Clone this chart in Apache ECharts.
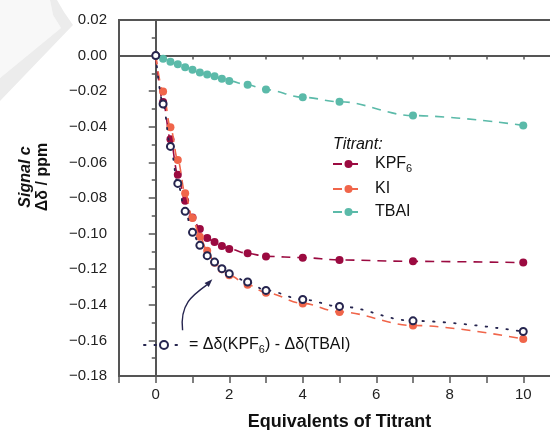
<!DOCTYPE html>
<html>
<head>
<meta charset="utf-8">
<script src="https://cdn.jsdelivr.net/npm/echarts@6/dist/echarts.min.js"></script>
<style>html,body{margin:0;padding:0;background:#fff}#c{width:550px;height:430px}</style>
</head>
<body>
<div id="c"></div>
<script>
// ---- data ----
var equivalents = [0, 0.2, 0.4, 0.6, 0.8, 1.0, 1.2, 1.4, 1.6, 1.8, 2.0, 2.5, 3, 4, 5, 7, 10];
var kpf6 = [0, -0.026, -0.047, -0.067, -0.0815, -0.091, -0.0974, -0.1025, -0.1047, -0.107, -0.1086, -0.1111, -0.1128, -0.1135, -0.1148, -0.1156, -0.1163];
var ki = [0, -0.0202, -0.0403, -0.0586, -0.0774, -0.0912, -0.1017, -0.1096, -0.1164, -0.1200, -0.1234, -0.1287, -0.1332, -0.1392, -0.1440, -0.1516, -0.1592];
var tbai = [0, -0.0017, -0.0034, -0.0048, -0.0065, -0.0080, -0.0095, -0.0106, -0.0116, -0.0130, -0.0143, -0.0164, -0.0191, -0.0234, -0.0259, -0.0337, -0.0392];
var diff = [0, -0.0272, -0.0510, -0.0718, -0.0875, -0.0993, -0.1066, -0.1124, -0.1160, -0.1197, -0.1225, -0.1272, -0.1319, -0.1370, -0.1409, -0.1490, -0.1550];
var xTickLabels = [0, 2, 4, 6, 8, 10];
var seriesNames = ['KPF6', 'KI', 'TBAI'];
var diffName = 'diff';

function pairs(xs, ys) { return xs.map(function (x, i) { return [x, ys[i]]; }); }

var FONT = "'Liberation Sans', Arial, sans-serif";
var AX = '#555555';
var C_KPF = '#9b0a40', C_KI = '#f0654a', C_TBAI = '#5bbaa9', C_DIFF = '#26254f';

var chart = echarts.init(document.getElementById('c'), null, { renderer: 'canvas' });

function lineSeries(name, data, color, z) {
  return {
    name: name, type: 'line', data: data, z: z,
    smooth: 0.35, smoothMonotone: 'x',
    symbol: 'circle', symbolSize: 8,
    itemStyle: { color: color },
    lineStyle: { color: color, width: 1.6, type: [9, 7] },
    emphasis: { disabled: true }
  };
}

var option = {
  animation: false,
  textStyle: { fontFamily: FONT },
  title: {
    text: 'Titrant:', left: 333, top: 137, padding: 0,
    textStyle: { fontFamily: FONT, fontStyle: 'italic', fontWeight: 'normal', fontSize: 16, color: '#111' }
  },
  grid: { left: 119, top: 20, width: 441, height: 356, show: true, borderColor: AX, borderWidth: 2,
    backgroundColor: 'transparent', containLabel: false, outerBoundsMode: 'none' },
  legend: [{
    data: seriesNames, left: 332, top: 156, orient: 'vertical', padding: 0,
    itemWidth: 31, itemHeight: 10, itemGap: 7, selectedMode: false,
    textStyle: { fontFamily: FONT, fontSize: 16, color: '#111', padding: [0, 0, 0, 6],
      rich: { t: { fontSize: 16, fontFamily: FONT, color: '#111' }, s: { fontSize: 11, fontFamily: FONT, color: '#111', padding: [9, 0, 0, 0] } } },
    formatter: function (n) { return n === 'KPF6' ? '{t|KPF}{s|6}' : n; }
  }, {
    data: [diffName], left: 143, top: 337, padding: 0,
    itemWidth: 40, itemHeight: 10, selectedMode: false,
    textStyle: { fontFamily: FONT, fontSize: 16, color: '#111',
      rich: { t: { fontSize: 16, fontFamily: FONT, color: '#111' }, s: { fontSize: 11, fontFamily: FONT, color: '#111', padding: [9, 0, 0, 0] } } },
    formatter: function () { return '{t|= Δδ(KPF}{s|6}{t|) - Δδ(TBAI)}'; }
  }],
  xAxis: [{
    type: 'value', min: -1, max: 11, interval: 1,
    name: 'Equivalents of Titrant', nameLocation: 'middle', nameGap: 37,
    nameTextStyle: { fontFamily: FONT, fontSize: 18, fontWeight: 'bold', color: '#111' },
    axisLine: { lineStyle: { color: AX, width: 2 } },
    axisTick: { length: 4, lineStyle: { color: AX, width: 1.5 } },
    axisLabel: { fontFamily: FONT, fontSize: 15, color: '#222', margin: 11,
      formatter: function (v) { return xTickLabels.indexOf(v) >= 0 ? String(v) : ''; } },
    splitLine: { show: false }
  }, {
    type: 'value', min: -1, max: 11, interval: 1, position: 'bottom', gridIndex: 0,
    axisLine: { show: false },
    axisTick: { length: 7, lineStyle: { color: AX, width: 1.5 },
      interval: function (i, v) { return xTickLabels.indexOf(Number(v)) >= 0; } },
    axisLabel: { show: false }, splitLine: { show: false }
  }],
  yAxis: {
    type: 'value', min: -0.18, max: 0.02, interval: 0.02,
    axisLine: { show: true, lineStyle: { color: AX, width: 2 } },
    axisTick: { show: true, length: 7, lineStyle: { color: AX, width: 1.5 } },
    minorTick: { show: true, splitNumber: 2, length: 4, lineStyle: { color: AX, width: 1.5 } },
    axisLabel: { fontFamily: FONT, fontSize: 15, color: '#222', margin: 12,
      formatter: function (v) { return (Math.abs(v) < 1e-9 ? '0.00' : v.toFixed(2)).replace('-', '\u2212'); } },
    splitLine: { show: false }
  },
  series: [
    lineSeries('KPF6', pairs(equivalents, kpf6), C_KPF, 2),
    lineSeries('KI', pairs(equivalents, ki), C_KI, 3),
    lineSeries('TBAI', pairs(equivalents, tbai), C_TBAI, 4),
    {
      name: diffName, type: 'line', data: pairs(equivalents, diff), z: 5,
      smooth: 0.35, smoothMonotone: 'x',
      symbol: 'emptyCircle', symbolSize: 7,
      itemStyle: { color: C_DIFF, borderColor: C_DIFF, borderWidth: 2 },
      lineStyle: { color: C_DIFF, width: 1.8, type: [1.5, 9], cap: 'round' },
      emphasis: { disabled: true }
    }
  ]
};
chart.setOption(option);

// annotation arrow anchored in data coordinates
var a0 = chart.convertToPixel({ gridIndex: 0 }, [0.73, -0.1543]);
var a1 = chart.convertToPixel({ gridIndex: 0 }, [1.54, -0.1257]);
var dx = 0.707, dy = -0.707, L = 8, W = 3;
var bx = a1[0] - L * dx, by = a1[1] - L * dy;

chart.setOption({
  graphic: [
    { type: 'polygon', silent: true, z: -20, shape: { points: [[0, 0], [50, 0], [53, 15], [61, 28], [0, 78]] }, style: { fill: '#f8f8f8' } },
    { type: 'polygon', silent: true, z: -19, shape: { points: [[50, 0], [57, 0], [64, 12], [73, 25], [0, 101], [0, 78], [61, 28], [53, 15]] }, style: { fill: '#ececec' } },
    { type: 'text', silent: true, x: 26, y: 177, rotation: Math.PI / 2,
      style: { text: 'Signal c', fontFamily: FONT, fontSize: 16, fontWeight: 'bold', fontStyle: 'italic', fill: '#111', align: 'center', verticalAlign: 'middle' } },
    { type: 'text', silent: true, x: 43, y: 177, rotation: Math.PI / 2,
      style: { text: 'Δδ / ppm', fontFamily: FONT, fontSize: 16, fontWeight: 'bold', fill: '#111', align: 'center', verticalAlign: 'middle' } },
    { type: 'bezierCurve', silent: true, z: 10,
      shape: { x1: a0[0], y1: a0[1], cpx1: a0[0] - 3, cpy1: a0[1] - 26, cpx2: bx - 14, cpy2: by + 10, x2: bx, y2: by },
      style: { stroke: C_DIFF, lineWidth: 1.4, fill: null } },
    { type: 'polygon', silent: true, z: 10,
      shape: { points: [[a1[0], a1[1]], [bx - W * dy, by + W * dx], [bx + W * dy, by - W * dx]] },
      style: { fill: C_DIFF } }
  ]
});
</script>
</body>
</html>
